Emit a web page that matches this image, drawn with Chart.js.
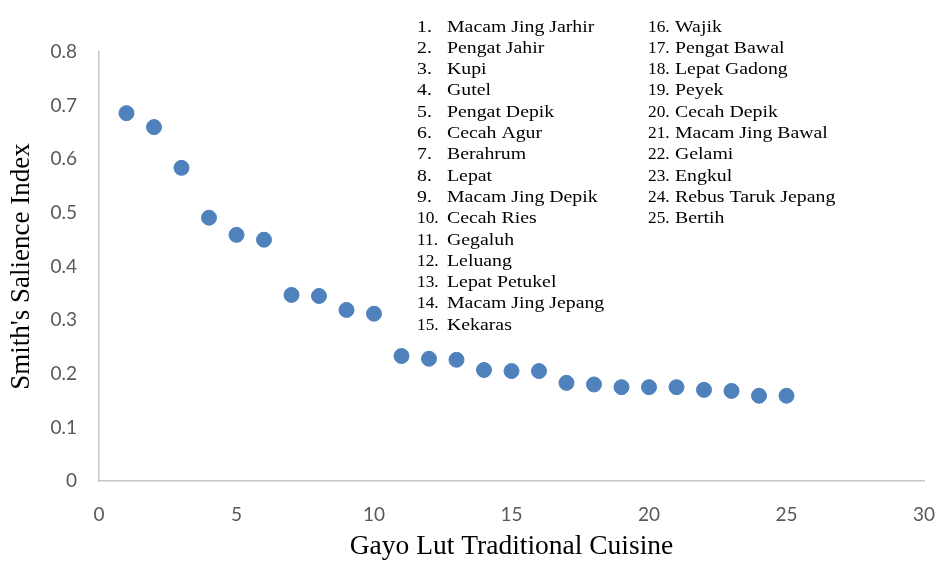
<!DOCTYPE html>
<html>
<head>
<meta charset="utf-8">
<script src="https://cdn.jsdelivr.net/npm/chart.js@4.4.1/dist/chart.umd.min.js"></script>
<style>
  html, body { margin: 0; padding: 0; background: #fff; overflow: hidden; }
  #wrap { width: 941px; height: 561px; position: relative; }
</style>
</head>
<body>
<div id="wrap"><canvas id="myChart"></canvas></div>
<script>
// rank of each cuisine (x) and its Smith's salience index (y)
const ranks = [1, 2, 3, 4, 5, 6, 7, 8, 9, 10, 11, 12, 13, 14, 15, 16, 17, 18, 19, 20, 21, 22, 23, 24, 25];
const salience = [0.686, 0.660, 0.584, 0.491, 0.459, 0.450, 0.347, 0.345, 0.319, 0.312,
    0.233, 0.228, 0.226, 0.207, 0.205, 0.205, 0.183, 0.180, 0.175, 0.175,
    0.175, 0.170, 0.168, 0.159, 0.159];
const cuisines = ['Macam Jing Jarhir', 'Pengat Jahir', 'Kupi', 'Gutel', 'Pengat Depik',
    'Cecah Agur', 'Berahrum', 'Lepat', 'Macam Jing Depik', 'Cecah Ries',
    'Gegaluh', 'Leluang', 'Lepat Petukel', 'Macam Jing Jepang', 'Kekaras',
    'Wajik', 'Pengat Bawal', 'Lepat Gadong', 'Peyek', 'Cecah Depik',
    'Macam Jing Bawal', 'Gelami', 'Engkul', 'Rebus Taruk Jepang', 'Bertih'];
const xTicks = [0, 5, 10, 15, 20, 25, 30];
const yTicks = [0, 0.1, 0.2, 0.3, 0.4, 0.5, 0.6, 0.7, 0.8];

const points = ranks.map((r, i) => ({ x: r, y: salience[i] }));

// numbered list of names drawn in the upper right of the plot
const nameList = {
    id: 'nameList',
    afterDraw(chart) {
        const c = chart.ctx;
        const sx = 1.2; // text in the original is a bit wide
        c.save();
        c.font = '16.5px "Liberation Serif", "Times New Roman", serif';
        c.fillStyle = '#000';
        c.textBaseline = 'alphabetic';
        cuisines.forEach((name, i) => {
            const col = i < 15 ? 0 : 1;
            const row = col === 0 ? i : i - 15;
            const y = 31.5 + row * 21.3;
            const num = (i + 1) + '.';
            const numX = col === 0 ? 417 : 648;
            const nameX = col === 0 ? 447 : 675;
            c.save();
            c.scale(i >= 9 ? 1.05 : sx, 1);
            c.fillText(num, numX / (i >= 9 ? 1.05 : sx), y);
            c.restore();
            c.save();
            c.scale(sx, 1);
            c.fillText(name, nameX / sx, y);
            c.restore();
        });
        c.restore();
    }
};

const ctx = document.getElementById('myChart');

const myScatter = new Chart(ctx, {
    type: 'scatter',
    data: {
        datasets: [{
            label: "Smith's Salience Index",
            data: points,
            backgroundColor: '#4f81bd',
            borderColor: '#4f81bd',
            pointRadius: 7.5,
            pointHoverRadius: 7.5
        }]
    },
    options: {
        responsive: true,
        maintainAspectRatio: false,
        animation: false,
        layout: {
            padding: { top: 52, right: 17, left: 0, bottom: 0 }
        },
        plugins: {
            legend: { display: false },
            tooltip: { enabled: false }
        },
        scales: {
            x: {
                type: 'linear',
                min: 0,
                max: 30,
                afterBuildTicks: (axis) => { axis.ticks = xTicks.map(v => ({ value: v })); },
                afterFit: (axis) => {
                    axis.height = 80;
                    axis.paddingLeft = 0;
                    axis.paddingRight = 0;
                },
                grid: { display: false, drawTicks: false },
                border: { display: true, color: '#c6c6c6', width: 1.5 },
                ticks: {
                    padding: 22,
                    color: '#595959',
                    font: { family: 'Lato, "Open Sans", sans-serif', size: 19 }
                },
                title: {
                    display: true,
                    text: 'Gayo Lut Traditional Cuisine',
                    color: '#000',
                    font: { family: '"Liberation Serif", "Times New Roman", serif', size: 27.5, lineHeight: 1 },
                    padding: { top: 0, bottom: 0 }
                }
            },
            y: {
                min: 0,
                max: 0.8,
                afterBuildTicks: (axis) => { axis.ticks = yTicks.map(v => ({ value: v })); },
                afterFit: (axis) => {
                    axis.width = 99;
                    axis.paddingTop = 0;
                    axis.paddingBottom = 0;
                },
                grid: { display: false, drawTicks: false },
                border: { display: true, color: '#c6c6c6', width: 1.5 },
                ticks: {
                    padding: 22,
                    color: '#595959',
                    font: { family: 'Lato, "Open Sans", sans-serif', size: 19 },
                    callback: (v) => String(Math.round(v * 10) / 10)
                },
                title: {
                    display: true,
                    text: "Smith's Salience Index",
                    color: '#000',
                    font: { family: '"Liberation Serif", "Times New Roman", serif', size: 27, lineHeight: 1 },
                    padding: { top: 8, bottom: 0 }
                }
            }
        }
    },
    plugins: [nameList]
});
</script>
</body>
</html>
